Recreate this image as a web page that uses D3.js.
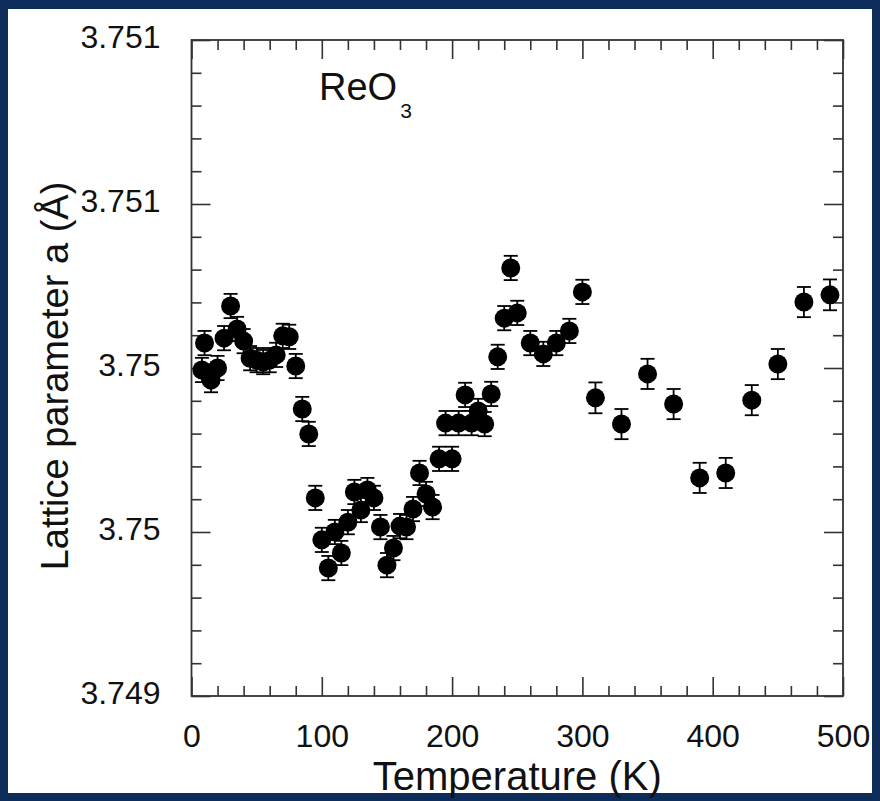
<!DOCTYPE html>
<html>
<head>
<meta charset="utf-8">
<script src="https://cdn.jsdelivr.net/npm/d3@7"></script>
<style>
  html, body { margin: 0; padding: 0; background: #0e2c5a; }
  svg { display: block; }
</style>
</head>
<body>
<svg id="chart" width="880" height="801"></svg>
<script>
// ReO3 lattice parameter vs temperature
const temperatures = [8, 10, 15, 20, 25, 30, 35, 40, 45, 50, 55, 60, 65, 70, 75, 80, 85, 90,
  95, 100, 105, 110, 115, 120, 125, 130, 135, 140, 145, 150, 155, 160, 165, 170, 175, 180, 185,
  190, 195, 200, 205, 210, 215, 220, 225, 230, 235, 240, 245, 250, 260, 270, 280, 290, 300,
  310, 330, 350, 370, 390, 410, 430, 450, 470, 490];

const latticeA = [3.749994, 3.750076, 3.749963, 3.750000, 3.750091, 3.750189, 3.750119, 3.750082,
  3.750030, 3.750024, 3.750018, 3.750024, 3.750040, 3.750098, 3.750095, 3.750006, 3.749875, 3.749799,
  3.749604, 3.749476, 3.749390, 3.749500, 3.749436, 3.749530, 3.749622, 3.749567, 3.749628, 3.749604,
  3.749515, 3.749399, 3.749451, 3.749518, 3.749515, 3.749570, 3.749680, 3.749616, 3.749576,
  3.749723, 3.749832, 3.749723, 3.749832, 3.749918, 3.749832, 3.749869, 3.749829, 3.749921,
  3.750034, 3.750152, 3.750305, 3.750168, 3.750076, 3.750043, 3.750076, 3.750113, 3.750232,
  3.749909, 3.749829, 3.749982, 3.749890, 3.749665, 3.749680, 3.749902, 3.750012, 3.750201, 3.750223];

const latticeErr = [0.000037, 0.000037, 0.000037, 0.000037, 0.000037, 0.000037, 0.000037, 0.000037,
  0.000037, 0.000037, 0.000037, 0.000037, 0.000037, 0.000037, 0.000037, 0.000037, 0.000037, 0.000037,
  0.000037, 0.000037, 0.000037, 0.000037, 0.000037, 0.000037, 0.000037, 0.000037, 0.000037, 0.000037,
  0.000037, 0.000037, 0.000037, 0.000037, 0.000037, 0.000037, 0.000037, 0.000037, 0.000037,
  0.000037, 0.000037, 0.000037, 0.000037, 0.000037, 0.000037, 0.000037, 0.000037, 0.000037,
  0.000037, 0.000037, 0.000037, 0.000037, 0.000037, 0.000037, 0.000037, 0.000037, 0.000037,
  0.000047, 0.000046, 0.000046, 0.000046, 0.000046, 0.000046, 0.000046, 0.000046, 0.000046, 0.000047];

const xTickValues = [0, 100, 200, 300, 400, 500];
const xTickLabels = ["0", "100", "200", "300", "400", "500"];
const yTickValues = [3.749, 3.7495, 3.750, 3.7505, 3.751];
const yTickLabels = ["3.749", "3.75", "3.75", "3.751", "3.751"];

const W = 880, H = 801;
const plot = { left: 191.5, right: 843, top: 40, bottom: 696 };
const FONT = "'Liberation Sans', Arial, Helvetica, sans-serif";
const INK = "#111";
const AXIS = "#333";

const svg = d3.select("#chart");

// white page inside the navy border
svg.append("rect").attr("x", 8).attr("y", 9).attr("width", W - 16).attr("height", H - 17)
  .attr("fill", "#ffffff");

const x = d3.scaleLinear().domain([0, 500]).range([plot.left, plot.right]);
const y = d3.scaleLinear().domain([3.749, 3.751]).range([plot.bottom, plot.top]);

const xMinor = d3.range(0, 501, 20).filter(v => v % 100 !== 0);
const yMinor = d3.range(0, 21).filter(i => i % 5 !== 0).map(i => 3.749 + i * 0.0001);

const MAJOR = 19, MINOR = 10;

function styleAxis(g) {
  g.select(".domain").remove();
  g.selectAll(".tick line").attr("stroke", AXIS).attr("stroke-width", 1.6);
  g.selectAll(".tick text").attr("font-family", FONT).attr("fill", INK);
}

// bottom axis with labels
const gxb = svg.append("g").attr("transform", `translate(0,${plot.bottom})`)
  .call(d3.axisBottom(x).tickValues(xTickValues).tickSize(-MAJOR).tickPadding(28)
    .tickFormat((d, i) => xTickLabels[i]))
  .call(styleAxis);
gxb.selectAll(".tick text").attr("font-size", 32).attr("dy", "0.72em");
svg.append("g").attr("transform", `translate(0,${plot.bottom})`)
  .call(d3.axisBottom(x).tickValues(xMinor).tickSize(-MINOR).tickFormat(""))
  .call(styleAxis);

// top axis (ticks only)
svg.append("g").attr("transform", `translate(0,${plot.top})`)
  .call(d3.axisTop(x).tickValues(xTickValues).tickSize(-MAJOR).tickFormat(""))
  .call(styleAxis);
svg.append("g").attr("transform", `translate(0,${plot.top})`)
  .call(d3.axisTop(x).tickValues(xMinor).tickSize(-MINOR).tickFormat(""))
  .call(styleAxis);

// left axis with labels
const gyl = svg.append("g").attr("transform", `translate(${plot.left},0)`)
  .call(d3.axisLeft(y).tickValues(yTickValues).tickSize(-MAJOR).tickPadding(31)
    .tickFormat((d, i) => yTickLabels[i]))
  .call(styleAxis);
gyl.selectAll(".tick text").attr("font-size", 32).attr("dy", "0.22em");
svg.append("g").attr("transform", `translate(${plot.left},0)`)
  .call(d3.axisLeft(y).tickValues(yMinor).tickSize(-MINOR).tickFormat(""))
  .call(styleAxis);

// right axis (ticks only)
svg.append("g").attr("transform", `translate(${plot.right},0)`)
  .call(d3.axisRight(y).tickValues(yTickValues).tickSize(-MAJOR).tickFormat(""))
  .call(styleAxis);
svg.append("g").attr("transform", `translate(${plot.right},0)`)
  .call(d3.axisRight(y).tickValues(yMinor).tickSize(-MINOR).tickFormat(""))
  .call(styleAxis);

// frame
svg.append("rect")
  .attr("x", plot.left).attr("y", plot.top)
  .attr("width", plot.right - plot.left).attr("height", plot.bottom - plot.top)
  .attr("fill", "none").attr("stroke", AXIS).attr("stroke-width", 1.8);

// data with error bars
const points = temperatures.map((t, i) => ({ t, a: latticeA[i], e: latticeErr[i] }));
const CAP = 7;
const gErr = svg.append("g").attr("stroke", "#000").attr("stroke-width", 1.8).attr("fill", "none");
points.forEach(p => {
  const cx = x(p.t), y0 = y(p.a - p.e), y1 = y(p.a + p.e);
  gErr.append("line").attr("x1", cx).attr("x2", cx).attr("y1", y0).attr("y2", y1);
  gErr.append("line").attr("x1", cx - CAP).attr("x2", cx + CAP).attr("y1", y0).attr("y2", y0);
  gErr.append("line").attr("x1", cx - CAP).attr("x2", cx + CAP).attr("y1", y1).attr("y2", y1);
});
svg.append("g").selectAll("circle").data(points).join("circle")
  .attr("cx", d => x(d.t)).attr("cy", d => y(d.a)).attr("r", 9.5).attr("fill", "#000");

// axis titles
svg.append("text")
  .attr("x", (plot.left + plot.right) / 2).attr("y", 790)
  .attr("text-anchor", "middle").attr("font-family", FONT).attr("font-size", 40).attr("fill", INK)
  .text("Temperature (K)");

svg.append("text")
  .attr("transform", `translate(68,${(plot.top + plot.bottom) / 2 + 8}) rotate(-90)`)
  .attr("text-anchor", "middle").attr("font-family", FONT).attr("font-size", 38).attr("fill", INK)
  .text("Lattice parameter a (Å)");

// compound label
const lbl = svg.append("text").attr("x", 319).attr("y", 100)
  .attr("font-family", FONT).attr("font-size", 38).attr("fill", INK);
lbl.append("tspan").text("ReO");
lbl.append("tspan").attr("font-size", 21).attr("dx", 3).attr("dy", 18).text("3");
</script>
</body>
</html>
